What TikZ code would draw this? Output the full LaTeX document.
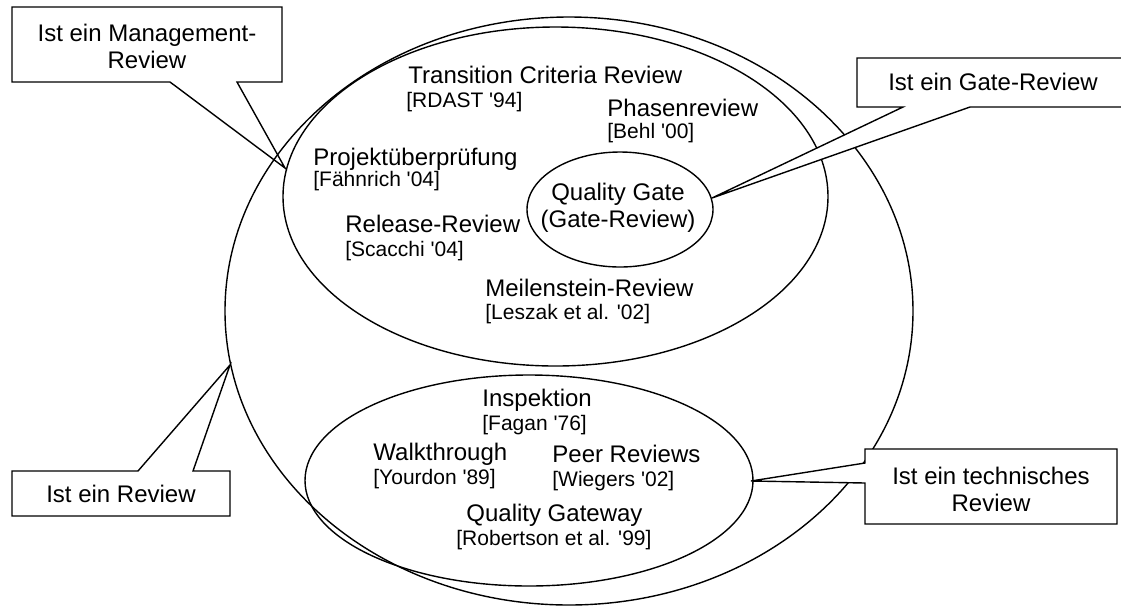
\documentclass[tikz,border=0pt]{standalone}
\usepackage{fontspec}
\setmainfont{Liberation Sans}
\usetikzlibrary{shapes.geometric}

\newcommand{\yr}[1]{\textquotesingle#1}

\tikzset{
  ring/.style={draw, ellipse, line width=0.7pt, inner sep=0pt},
  lbl/.style={anchor=base west, inner sep=0pt, font=\fontsize{12}{14}\selectfont},
  cite/.style={anchor=base west, inner sep=0pt, font=\fontsize{10.5}{12}\selectfont},
  callout/.style={draw, fill=white, line width=0.7pt, line join=miter},
  calltext/.style={inner sep=0pt, align=center, font=\fontsize{12}{13.5}\selectfont},
}

\begin{document}
\begin{tikzpicture}[x=0.5pt,y=-0.5pt]
\useasboundingbox (0,0) rectangle (1121,607);
\clip (0,0) rectangle (1121,607);

% tip points of the callouts
\coordinate (mgmtTip) at (285,168);
\coordinate (gateTip) at (712,198);
\coordinate (revTip)  at (230,365);
\coordinate (techTip) at (751,481);

% management-review callout (lies under the ellipses)
\draw[callout] (12,7) -- (282,7) -- (282,82) -- (237,82) -- (mgmtTip)
  -- (170,82) -- (12,82) -- cycle;
\node[calltext] (mgmtText) at (147,46) {Ist ein Management-\\Review};

% nested review sets
\node[ring, minimum width=344pt, minimum height=294pt] (review) at (569,311) {};
\node[ring, minimum width=272.5pt, minimum height=169.5pt] (mgmt) at (555.5,196.5) {};
\node[ring, minimum width=93pt, minimum height=57.5pt] (gate) at (620,209.5) {};
\node[ring, minimum width=224pt, minimum height=105.5pt] (tech) at (529,480.5) {};

% management reviews
\node[lbl]  (trans)   at (408,83)  {Transition Criteria Review};
\node[cite] (transC)  at (406,107) {[RDAST \yr{94}]};
\node[lbl]  (phase)   at (607,116) {Phasenreview};
\node[cite] (phaseC)  at (607,138) {[Behl \yr{00}]};
\node[lbl]  (proj)    at (313,165) {Projektüberprüfung};
\node[cite] (projC)   at (313,186) {[Fähnrich \yr{04}]};
\node[lbl]  (rel)     at (345,232) {Release-Review};
\node[cite] (relC)    at (345,256) {[Scacchi \yr{04}]};
\node[lbl]  (mile)    at (485,296) {Meilenstein-Review};
\node[cite] (mileC)   at (485,319) {[Leszak et al. \yr{02}]};
\node[calltext] (qg) at (618,208) {Quality Gate\\(Gate-Review)};

% technical reviews
\node[lbl]  (insp)    at (482,406) {Inspektion};
\node[cite] (inspC)   at (482,430) {[Fagan \yr{76}]};
\node[lbl]  (walk)    at (373,460) {Walkthrough};
\node[cite] (walkC)   at (373,484) {[Yourdon \yr{89}]};
\node[lbl]  (peer)    at (552,462) {Peer Reviews};
\node[cite] (peerC)   at (552,486) {[Wiegers \yr{02}]};
\node[lbl]  (qgw)     at (466,521) {Quality Gateway};
\node[cite] (qgwC)    at (456,545) {[Robertson et al. \yr{99}]};

% gate-review callout
\draw[callout] (857,58) -- (1125,58) -- (1125,107) -- (970,107) -- (gateTip)
  -- (903,107) -- (857,107) -- cycle;
\node[calltext] (gateText) at (993,82) {Ist ein Gate-Review};

% review callout
\draw[callout] (12,471) -- (138,471) -- (revTip) -- (193,471) -- (230,471)
  -- (230,516) -- (12,516) -- cycle;
\node[calltext] (revText) at (121,494) {Ist ein Review};

% technical-review callout
\draw[callout] (865,449) -- (1117,449) -- (1117,524) -- (865,524) -- (865,483)
  -- (techTip) -- (865,463) -- cycle;
\node[calltext] (techText) at (991,489) {Ist ein technisches\\Review};
\end{tikzpicture}
\end{document}
